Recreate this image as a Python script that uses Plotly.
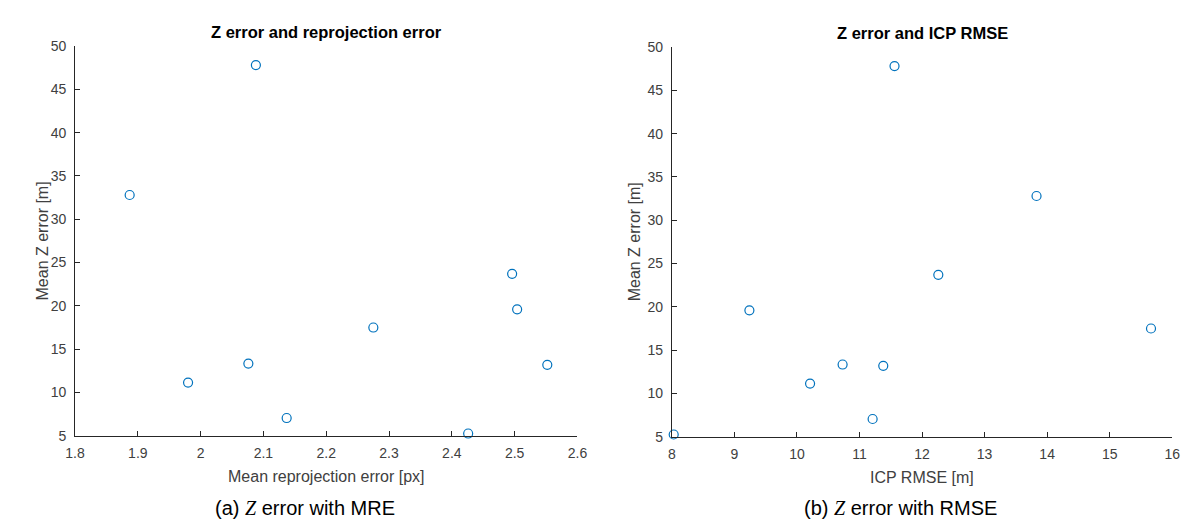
import plotly.graph_objects as go

# Data (one point per sequence)
mre_px = [2.088, 1.887, 2.496, 2.504, 2.275, 2.076, 2.552, 1.980, 2.137, 2.426]
icp_rmse_m = [11.56, 13.83, 12.26, 9.24, 15.66, 10.73, 11.38, 10.21, 11.21, 8.03]
mean_z_err_m = [47.8, 32.8, 23.7, 19.6, 17.5, 13.34, 13.19, 11.14, 7.05, 5.26]

titles = ["Z error and reprojection error", "Z error and ICP RMSE"]
xlabels = ["Mean reprojection error [px]", "ICP RMSE [m]"]
ylabel = "Mean Z error [m]"
captions = ["(a) <i><span style='font-family:Liberation Serif, serif'>Z</span></i> error with MRE",
            "(b) <i><span style='font-family:Liberation Serif, serif'>Z</span></i> error with RMSE"]

W, H = 1190, 524
def px(x):
    return x / W
def py(y):
    return 1 - y / H

AX = "#262626"
TXT = "#404040"
BLUE = "#0072BD"
FONT = "Liberation Sans, Arial, sans-serif"

fig = go.Figure()
for xs, xa, ya in [(mre_px, "x", "y"), (icp_rmse_m, "x2", "y2")]:
    fig.add_trace(go.Scatter(x=xs, y=mean_z_err_m, mode="markers", xaxis=xa, yaxis=ya,
                             marker=dict(symbol="circle-open", size=9, color=BLUE, line=dict(width=1.2)),
                             cliponaxis=False, showlegend=False))

axis_common = dict(showline=True, linecolor=AX, linewidth=1, ticks="inside", ticklen=5,
                   tickcolor=AX, tickwidth=1, showgrid=False, zeroline=False,
                   tickfont=dict(family=FONT, size=14, color=TXT))

L0, L1 = 58, 569
R0, R1 = 665, 1174
T, B = 31, 433

fig.update_layout(
    width=W, height=H, margin=dict(l=0, r=0, t=0, b=0),
    paper_bgcolor="white", plot_bgcolor="white",
    xaxis=dict(domain=[px(L0), px(L1)], range=[1.8, 2.6], dtick=0.1, tickformat="~g", anchor="y",
               ticklabelstandoff=4, **axis_common),
    yaxis=dict(domain=[py(B), py(T)], range=[5, 50], dtick=5, anchor="x",
               ticklabelstandoff=5, **axis_common),
    xaxis2=dict(domain=[px(R0), px(R1)], range=[8, 16], dtick=1, anchor="y2",
                ticklabelstandoff=4, **axis_common),
    yaxis2=dict(domain=[py(B + 1), py(T + 1)], range=[5, 50], dtick=5, anchor="x2",
                ticklabelstandoff=5, **axis_common),
)

ann = []
centers = [(L0 + L1) / 2, (R0 + R1) / 2]
title_y = [16, 18]
ytitle_x = [25, 627]
cap_x = [292, 898]
for i in range(2):
    ann.append(dict(text="<b>" + titles[i] + "</b>", x=px(centers[i]), y=py(title_y[i]),
                    font=dict(family=FONT, size=16.5, color="black")))
    ann.append(dict(text=xlabels[i], x=px(centers[i]), y=py(475 + i),
                    font=dict(family=FONT, size=16, color=TXT)))
    ann.append(dict(text=ylabel, x=px(ytitle_x[i]), y=py((T + B) / 2 + i), textangle=-90,
                    font=dict(family=FONT, size=16, color=TXT)))
    ann.append(dict(text=captions[i], x=px(cap_x[i]), y=py(508),
                    font=dict(family=FONT, size=20, color="black")))
for a in ann:
    a.update(xref="paper", yref="paper", showarrow=False, xanchor="center", yanchor="middle")
fig.update_layout(annotations=ann)

fig.write_html("out.html")
